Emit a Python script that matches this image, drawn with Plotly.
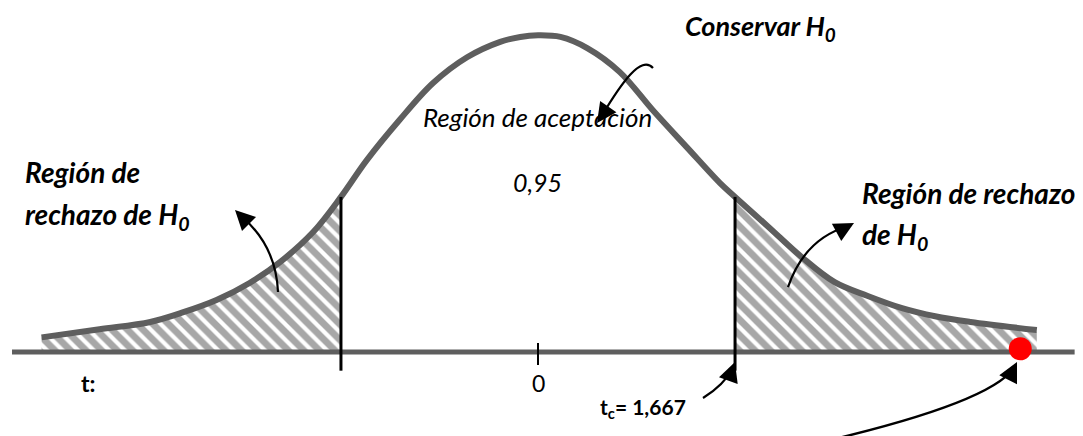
import plotly.graph_objects as go

# ---- data (t values and relative density heights) ----
t_left = [-4.20, -3.71, -3.28, -3.00, -2.72, -2.44, -2.18, -1.90, -1.667]
f_left = [0.018, 0.028, 0.037, 0.049, 0.064, 0.085, 0.111, 0.148, 0.191]

t_mid = [-1.667, -1.45, -1.17, -0.89, -0.60, -0.32, -0.15, 0.0, 0.19, 0.42, 0.69, 0.97, 1.26, 1.54, 1.667]
f_mid = [0.191, 0.236, 0.286, 0.331, 0.363, 0.382, 0.388, 0.390, 0.388, 0.374, 0.345, 0.298, 0.252, 0.208, 0.191]

t_right = [1.667, 1.95, 2.23, 2.51, 2.79, 3.08, 3.36, 3.66, 4.22]
f_right = [0.191, 0.154, 0.117, 0.086, 0.069, 0.054, 0.044, 0.037, 0.027]

t_crit = [-1.667, 1.667]
t_axis = [-4.45, 4.54]
t_stat = 4.08            # red point (observed statistic)
tick_labels = ["t:", "0", "t<sub>c</sub>= 1,667"]

GRAY = "rgb(94,94,94)"
FONT = "Lato"
OFF = 8  # page body margin in the browser

fig = go.Figure()

# hatched tails
for tt, ff in [(t_left, f_left), (t_right, f_right)]:
    fig.add_trace(go.Scatter(
        x=tt, y=ff, mode="lines", fill="tozeroy",
        line=dict(width=0, color=GRAY, shape="spline", smoothing=1.0),
        fillcolor="white",
        fillpattern=dict(shape="\\", fgcolor="rgb(80,80,80)", bgcolor="white", size=11, solidity=0.62),
        hoverinfo="skip", showlegend=False))

# baseline
fig.add_trace(go.Scatter(x=t_axis, y=[0, 0], mode="lines",
                         line=dict(color=GRAY, width=5), hoverinfo="skip", showlegend=False))

# curve
t_all = t_left + t_mid[1:] + t_right[1:]
f_all = f_left + f_mid[1:] + f_right[1:]
fig.add_trace(go.Scatter(x=t_all, y=f_all, mode="lines",
                         line=dict(color=GRAY, width=6, shape="spline", smoothing=1.0),
                         hoverinfo="skip", showlegend=False))

# critical value lines
for tc, fc in zip(t_crit, [f_left[-1], f_right[0]]):
    fig.add_trace(go.Scatter(x=[tc, tc], y=[-0.023, fc], mode="lines",
                             line=dict(color="black", width=3), hoverinfo="skip", showlegend=False))

# tick at zero
fig.add_trace(go.Scatter(x=[0, 0], y=[0.011, -0.016], mode="lines",
                         line=dict(color="black", width=2), hoverinfo="skip", showlegend=False))

# red point
fig.add_trace(go.Scatter(x=[t_stat], y=[0.004], mode="markers",
                         marker=dict(color="red", size=23), hoverinfo="skip", showlegend=False))

# curved arrows (paths) + arrow heads
def P(px, py):
    return (px - 538) / 118.2, (352 - py) / 812

def path(cmd):
    out = []
    for tok in cmd:
        if isinstance(tok, str):
            out.append(tok)
        else:
            x, y = P(*tok)
            out.append(f"{x:.4f},{y:.4f}")
    return " ".join(out)

arrows = [
    (["M", (278, 292), "Q", (276, 245), (240, 215)], (235, 210), (250, 225)),
    (["M", (653, 68), "C", (641, 55), (622, 82), (601, 117)], (597, 123), (606, 110)),
    (["M", (788, 287), "Q", (805, 238), (849, 226)], (854, 223), (841, 230)),
    (["M", (703, 398), "Q", (724, 385), (733, 368)], (735, 362), (730, 376)),
    (["M", (830, 440), "Q", (990, 402), (1014, 368)], (1017, 362), (1010, 376)),
]
for cmd, tip, back in arrows:
    fig.add_shape(type="path", path=path(cmd), xref="x", yref="y",
                  line=dict(color="black", width=2.2))
    tx, ty = P(*tip)
    fig.add_annotation(x=tx, y=ty, ax=back[0] - tip[0], ay=back[1] - tip[1], text="",
                       showarrow=True, arrowhead=2, arrowsize=1.8, arrowwidth=2.2,
                       arrowcolor="black", xref="x", yref="y")

def txt(text, px, py, size, anchor="center", color="black"):
    x, y = P(px, py)
    fig.add_annotation(x=x, y=y, text=text, showarrow=False, xanchor=anchor, yanchor="middle",
                       font=dict(family=FONT, size=size, color=color), xref="x", yref="y")

txt("<b><i>Conservar H<sub>0</sub></i></b>", 838, 27, 27, "right")
txt("<i>Región de aceptación</i>", 537, 117, 26)
txt("<i>0,95</i>", 537, 182, 25)
txt("<b><i>Región de</i></b>", 23, 172, 28, "left")
txt("<b><i>rechazo de H<sub>0</sub></i></b>", 23, 216, 28, "left")
txt("<b><i>Región de rechazo</i></b>", 860, 193, 28, "left")
txt("<b><i>de H<sub>0</sub></i></b>", 860, 236, 28, "left")
txt("<b>" + tick_labels[0] + "</b>", 88, 383, 23)
txt(tick_labels[1], 538, 383, 23)
txt("<b>" + tick_labels[2] + "</b>", 643, 408, 21)

x0, _ = P(OFF, 0)
x1, _ = P(OFF + 1083, 0)
_, y1 = P(0, OFF)
_, y0 = P(0, OFF + 436)
fig.update_layout(
    width=1083, height=436, margin=dict(l=0, r=0, t=0, b=0),
    paper_bgcolor="white", plot_bgcolor="white",
    xaxis=dict(range=[x0, x1], visible=False, fixedrange=True),
    yaxis=dict(range=[y0, y1], visible=False, fixedrange=True),
    showlegend=False,
)
fig.write_html("out.html")
